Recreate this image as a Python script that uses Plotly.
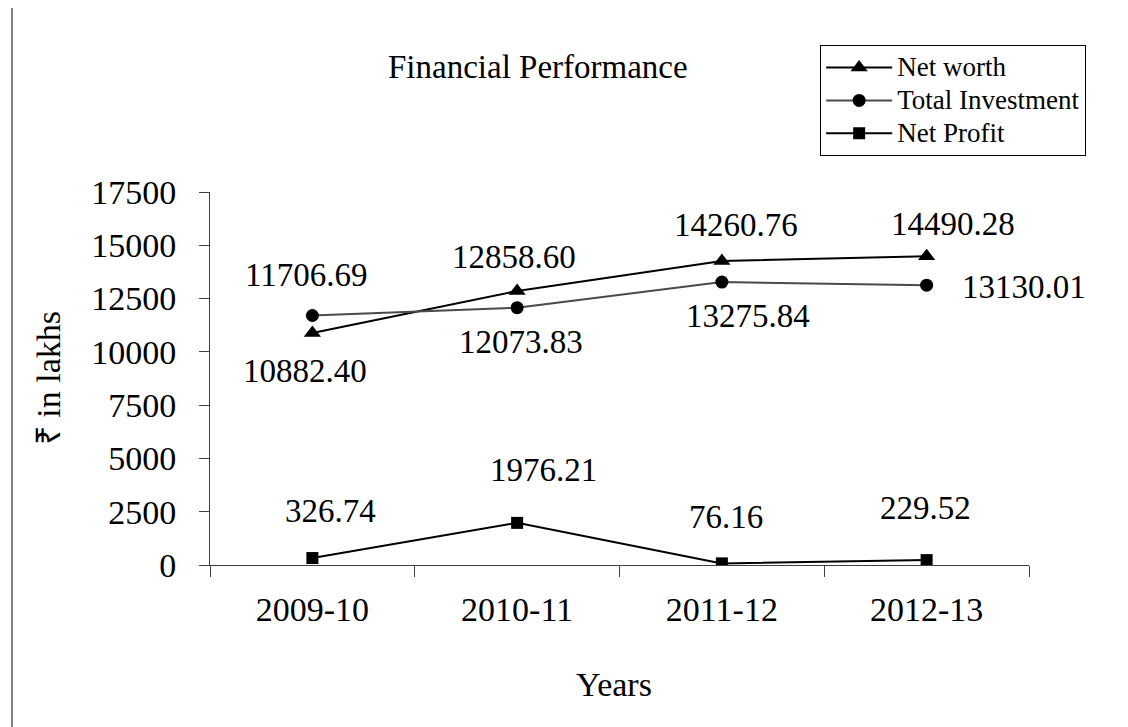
import plotly.graph_objects as go

years = ["2009-10", "2010-11", "2011-12", "2012-13"]
net_worth = [10882.40, 12858.60, 14260.76, 14490.28]
total_investment = [11706.69, 12073.83, 13275.84, 13130.01]
net_profit = [326.74, 1976.21, 76.16, 229.52]
series_names = ["Net worth", "Total Investment", "Net Profit"]
y_ticks = [0, 2500, 5000, 7500, 10000, 12500, 15000, 17500]

# label offsets in pixels (dx right, dy up) - style only
nw_off = [(-7, -38), (-3, 34), (14, 36), (26, 32)]
ti_off = [(-6, 40), (4, -34), (26, -34), (97, -2)]
np_off = [(18, 47), (26, 53), (4, 46), (-1, 52)]

FONT = "Liberation Serif, Times New Roman, serif"


def legend_name(s):
    return f'<span style="font-size:27px">{s}</span>'


fig = go.Figure()
fig.add_trace(go.Scatter(x=years, y=net_worth, name=legend_name(series_names[0]), mode="lines+markers",
                         line=dict(color="#000000", width=2),
                         marker=dict(symbol="triangle-up", size=15, color="#000000")))
fig.add_trace(go.Scatter(x=years, y=total_investment, name=legend_name(series_names[1]), mode="lines+markers",
                         line=dict(color="#4a4a4a", width=2),
                         marker=dict(symbol="circle", size=13, color="#000000")))
fig.add_trace(go.Scatter(x=years, y=net_profit, name=legend_name(series_names[2]), mode="lines+markers",
                         line=dict(color="#000000", width=2),
                         marker=dict(symbol="square", size=12, color="#000000")))

annotations = []
for series, offs in ((net_worth, nw_off), (total_investment, ti_off), (net_profit, np_off)):
    for yr, v, (dx, dy) in zip(years, series, offs):
        annotations.append(dict(x=yr, y=v, xref="x", yref="y", text=f"{v:.2f}",
                                showarrow=False, xshift=dx, yshift=dy,
                                xanchor="center", yanchor="middle",
                                font=dict(family=FONT, size=33, color="#000000")))

# title and axis titles
annotations.append(dict(x=0.4005, y=1.335, xref="paper", yref="paper", text="Financial Performance",
                        showarrow=False, xanchor="center", yanchor="middle",
                        font=dict(family=FONT, size=33, color="#000000")))
annotations.append(dict(x=0.4928, y=-0.32, xref="paper", yref="paper", text="Years",
                        showarrow=False, xanchor="center", yanchor="middle",
                        font=dict(family=FONT, size=34, color="#000000")))
annotations.append(dict(x=-0.197, y=0.5, xref="paper", yref="paper", text="₹ in lakhs",
                        showarrow=False, xanchor="center", yanchor="middle", textangle=-90,
                        font=dict(family=FONT, size=34, color="#000000")))

fig.update_layout(
    width=1128, height=727,
    margin=dict(l=202, r=107, t=184, b=170, autoexpand=False),
    paper_bgcolor="white", plot_bgcolor="white",
    font=dict(family=FONT, color="#000000"),
    showlegend=True,
    legend=dict(x=0.745, y=1.394, xanchor="left", yanchor="top",
                bordercolor="#000000", borderwidth=1, bgcolor="white",
                font=dict(family=FONT, size=23, color="#000000"),
                tracegroupgap=0, itemwidth=66),
    annotations=annotations,
    hovermode=False,
    shapes=[dict(type="rect", xref="paper", yref="paper",
                 x0=-0.2418, x1=1.1331, y0=-0.4531, y1=1.4987,
                 line=dict(color="#808080", width=2), fillcolor="rgba(0,0,0,0)", layer="below")],
)
fig.update_xaxes(type="category", range=[-0.5, 3.5], tickson="boundaries",
                 ticks="outside", ticklen=11, tickcolor="#404040", tickwidth=1,
                 showline=True, linecolor="#404040", linewidth=1, showgrid=False, zeroline=False,
                 tickfont=dict(family=FONT, size=34, color="#000000"), ticklabelstandoff=14)
fig.update_yaxes(range=[0, 17500], tickvals=y_ticks, ticktext=[str(t) for t in y_ticks],
                 ticks="outside", ticklen=10, tickcolor="#404040", tickwidth=1,
                 showline=True, linecolor="#404040", linewidth=1, showgrid=False, zeroline=False,
                 tickfont=dict(family=FONT, size=34, color="#000000"), ticklabelstandoff=16)

fig.write_html("out.html")
